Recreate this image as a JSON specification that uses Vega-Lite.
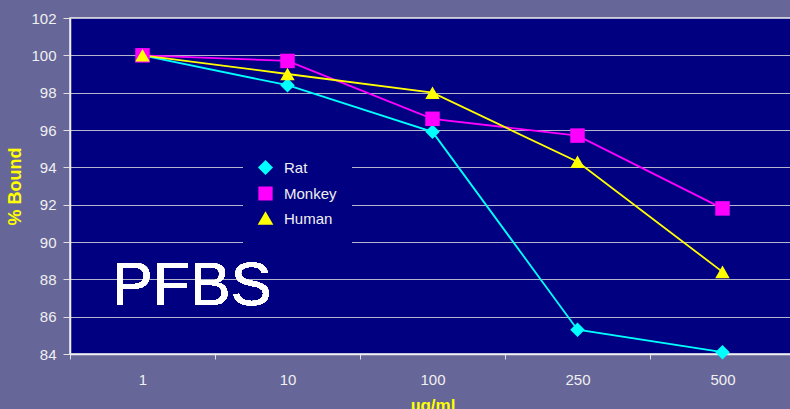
{
  "$schema": "https://vega.github.io/schema/vega-lite/v6.json",
  "autosize": "none",
  "width": 725,
  "height": 336,
  "padding": {"left": 70, "top": 18, "right": 0, "bottom": 60},
  "background": "#666699",
  "config": {
    "font": "Liberation Sans",
    "view": {"fill": "#000080", "stroke": "#f0f0f0", "strokeWidth": 1.5},
    "axis": {
      "domainColor": "#f0f0f0",
      "domainWidth": 1.5,
      "tickColor": "#e0e0e0",
      "labelColor": "#f0f0f0",
      "labelFont": "Liberation Sans",
      "labelFontSize": 15,
      "labelOverlap": false,
      "titleColor": "#ffff00",
      "titleFont": "Liberation Sans",
      "titleFontWeight": "bold"
    },
    "axisX": {
      "title": "µg/ml",
      "titleFontSize": 17,
      "titlePadding": 10,
      "labelAngle": 0,
      "labelPadding": 13,
      "tickBand": "extent",
      "tickSize": 5,
      "grid": false
    },
    "axisY": {
      "titleFontSize": 18,
      "titlePadding": 6,
      "tickSize": 7,
      "labelPadding": 7,
      "grid": true,
      "gridColor": "#b4b4cc",
      "gridWidth": 1
    },
    "legend": {
      "labelColor": "#f0f0f0",
      "labelFont": "Liberation Sans",
      "labelFontSize": 15
    }
  },
  "data": {
    "values": [
      {"dose": "1", "species": "Rat", "bound": 100.0},
      {"dose": "10", "species": "Rat", "bound": 98.4},
      {"dose": "100", "species": "Rat", "bound": 95.9},
      {"dose": "250", "species": "Rat", "bound": 85.3},
      {"dose": "500", "species": "Rat", "bound": 84.1},
      {"dose": "1", "species": "Monkey", "bound": 100.0},
      {"dose": "10", "species": "Monkey", "bound": 99.7},
      {"dose": "100", "species": "Monkey", "bound": 96.6},
      {"dose": "250", "species": "Monkey", "bound": 95.7},
      {"dose": "500", "species": "Monkey", "bound": 91.8},
      {"dose": "1", "species": "Human", "bound": 100.0},
      {"dose": "10", "species": "Human", "bound": 99.0},
      {"dose": "100", "species": "Human", "bound": 98.0},
      {"dose": "250", "species": "Human", "bound": 94.3},
      {"dose": "500", "species": "Human", "bound": 88.4}
    ]
  },
  "layer": [
    {
      "mark": {"type": "line", "strokeWidth": 1.8},
      "encoding": {
        "x": {
          "field": "dose",
          "type": "ordinal",
          "sort": ["1", "10", "100", "250", "500"],
          "scale": {"type": "band", "paddingInner": 0, "paddingOuter": 0},
          "axis": {"title": "µg/ml"}
        },
        "y": {
          "field": "bound",
          "type": "quantitative",
          "scale": {"domain": [84, 102], "nice": false, "zero": false},
          "axis": {"title": "% Bound", "values": [84, 86, 88, 90, 92, 94, 96, 98, 100, 102]}
        },
        "color": {
          "field": "species",
          "type": "nominal",
          "sort": ["Rat", "Monkey", "Human"],
          "scale": {"domain": ["Rat", "Monkey", "Human"], "range": ["#00ffff", "#ff00ff", "#ffff00"]},
          "legend": {
            "title": null,
            "orient": "none",
            "legendX": 173,
            "legendY": 127,
            "fillColor": "#000080",
            "padding": 15,
            "symbolSize": 150,
            "symbolStrokeWidth": 2,
            "labelOffset": 11,
            "rowPadding": 5
          }
        }
      }
    },
    {
      "mark": {"type": "point", "filled": true, "opacity": 1, "size": 210},
      "encoding": {
        "x": {"field": "dose", "type": "ordinal", "sort": ["1", "10", "100", "250", "500"], "axis": {"title": "µg/ml"}},
        "y": {"field": "bound", "type": "quantitative", "axis": {"title": "% Bound", "values": [84, 86, 88, 90, 92, 94, 96, 98, 100, 102]}},
        "color": {"field": "species", "type": "nominal", "sort": ["Rat", "Monkey", "Human"]},
        "shape": {
          "field": "species",
          "type": "nominal",
          "sort": ["Rat", "Monkey", "Human"],
          "scale": {"domain": ["Rat", "Monkey", "Human"], "range": ["diamond", "square", "triangle-up"]}
        }
      }
    },
    {
      "mark": {"type": "text", "text": "PFBS", "fontSize": 61, "font": "Liberation Sans", "color": "#ffffff", "align": "left", "baseline": "alphabetic"},
      "encoding": {
        "x": {"datum": "1", "type": "ordinal", "bandPosition": 0.29, "axis": {"title": "µg/ml"}},
        "y": {"datum": 86.63, "type": "quantitative", "axis": {"title": "% Bound", "values": [84, 86, 88, 90, 92, 94, 96, 98, 100, 102]}}
      }
    }
  ]
}
